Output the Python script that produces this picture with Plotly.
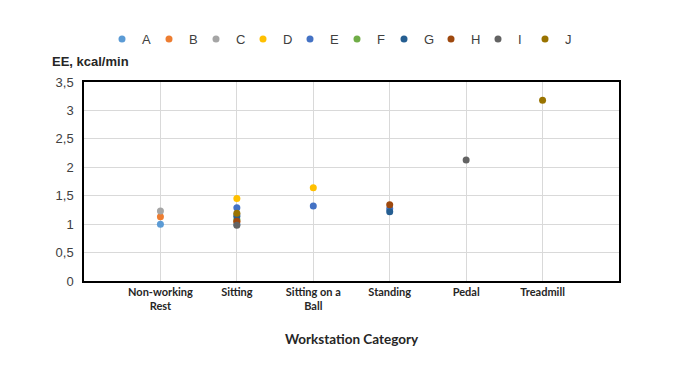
import plotly.graph_objects as go

categories = ["Non-working<br>Rest", "Sitting", "Sitting on a<br>Ball", "Standing", "Pedal", "Treadmill"]
cat_pos = [1, 2, 3, 4, 5, 6]
series_names = ["A", "B", "C", "D", "E", "F", "G", "H", "I", "J"]
A = [1.00, 1.00, None, None, None, None]
B = [1.13, 1.04, None, None, None, None]
C = [1.23, 1.17, None, None, None, None]
D = [None, 1.45, 1.64, None, None, None]
E = [None, 1.29, 1.32, 1.27, None, None]
F = [None, 1.08, None, None, None, None]
G = [None, 1.14, None, 1.22, None, None]
H = [None, 1.05, None, 1.34, None, None]
I = [None, 0.98, None, None, 2.13, None]
J = [None, 1.19, None, None, None, 3.18]
series_values = [A, B, C, D, E, F, G, H, I, J]
colors = ["#5B9BD5", "#ED7D31", "#A5A5A5", "#FFC000", "#4472C4",
          "#70AD47", "#255E91", "#9E480E", "#636363", "#997300"]
y_ticks = [0, 0.5, 1, 1.5, 2, 2.5, 3, 3.5]

fig = go.Figure()
for name, vals, col in zip(series_names, series_values, colors):
    fig.add_trace(go.Scatter(
        x=cat_pos, y=vals, mode="markers", name=name,
        marker=dict(color=col, size=7, line=dict(width=0)),
    ))

# the page body adds an 8px offset; margins compensate for it
fig.update_layout(
    width=674, height=377,
    margin=dict(l=76, r=63, t=74, b=104),
    paper_bgcolor="white", plot_bgcolor="white",
    separators=",.",
    font=dict(family="Liberation Sans, Arial", size=13, color="#404040"),
    legend=dict(orientation="h", xref="container", x=329 / 674, xanchor="center",
                yref="container", y=1 - 31 / 377, yanchor="middle",
                font=dict(size=13, color="#404040"), itemwidth=30, entrywidth=2,
                bgcolor="rgba(0,0,0,0)"),
    showlegend=True,
    xaxis=dict(range=[0, 7], tickmode="array", tickvals=cat_pos, ticktext=categories,
               showgrid=True, gridcolor="#D9D9D9", gridwidth=1,
               showline=True, linecolor="black", linewidth=1.5, mirror=True,
               zeroline=False, ticks="",
               tickfont=dict(family="Lato, Liberation Sans", size=11, color="#262626", weight="bold"),
               title=dict(text="<b>Workstation Category</b>", standoff=23,
                          font=dict(family="Lato, Liberation Sans", size=13.5, color="#262626"))),
    yaxis=dict(range=[0, 3.5], tickmode="array", tickvals=y_ticks,
               showgrid=True, gridcolor="#D9D9D9", gridwidth=1,
               showline=True, linecolor="black", linewidth=1.5, mirror=True,
               zeroline=False, ticks="", ticklabelstandoff=6,
               tickfont=dict(family="Liberation Sans, Arial", size=13, color="#404040")),
    annotations=[dict(text="<b>EE, kcal/min</b>", xref="paper", yref="paper",
                      x=-34 / 535, y=1 + 21 / 199, xanchor="left", yanchor="middle",
                      showarrow=False,
                      font=dict(family="Liberation Sans, Arial", size=13, color="#262626"))],
)

fig.write_html("out.html")
